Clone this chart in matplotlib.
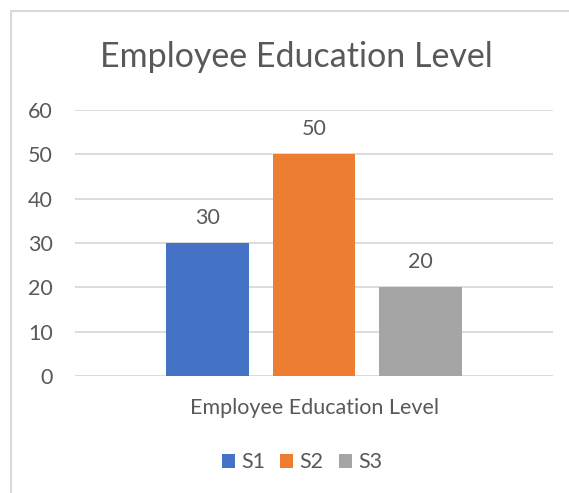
import matplotlib
matplotlib.use('Agg')
import matplotlib.pyplot as plt
from matplotlib.patches import Rectangle

# chart data
series = ['S1', 'S2', 'S3']
values = [30, 50, 20]
colors = ['#4472C4', '#ED7D31', '#A5A5A5']
category = 'Employee Education Level'
yticks = [0, 10, 20, 30, 40, 50, 60]

plt.rcParams['font.family'] = ['Lato', 'DejaVu Sans']
text_col = '#595959'

fig = plt.figure(figsize=(5.69, 4.93), dpi=100)
fig.patch.set_facecolor('white')

# outer chart frame (only left and top visible in the crop)
fig.add_artist(Rectangle((11 / 569, -0.1), 1.2, 1 - 11 / 493 + 0.1,
                         transform=fig.transFigure, fill=False,
                         edgecolor='#d9d9d9', linewidth=1.5))

ax = fig.add_axes([75 / 569, 1 - 376 / 493, (553 - 75) / 569, (376 - 110) / 493])

pos = [-1, 0, 1]
for i in range(len(series)):
    ax.bar(pos[i], values[i], width=0.78, color=colors[i], label=series[i], zorder=3)
    ax.annotate(str(values[i]), (pos[i], values[i]), xytext=(0, 11),
                textcoords='offset points', ha='center', va='bottom',
                fontsize=15.5, color=text_col)

ax.set_xlim(-2.25, 2.25)
ax.set_ylim(0, 60)
ax.set_yticks(yticks)
ax.set_xticks([])
ax.yaxis.grid(True, color='#d9d9d9', linewidth=1.3, zorder=0)
for s in ax.spines.values():
    s.set_visible(False)
ax.tick_params(axis='y', length=0, pad=16, labelsize=15.5, labelcolor=text_col)
ax.set_axisbelow(True)

fig.text(296 / 569, 1 - 57 / 493, 'Employee Education Level', ha='center', va='center',
         fontsize=24.5, color=text_col)
ax.text(0, -0.12, category, transform=ax.get_xaxis_transform(), ha='center',
        va='center', fontsize=15.5, color=text_col)

leg = ax.legend(loc='center', bbox_to_anchor=(0.475, -0.325), ncol=3, frameon=False,
                fontsize=15.5, handlelength=0.6, handleheight=0.6, handletextpad=0.3,
                columnspacing=0.7)
for t in leg.get_texts():
    t.set_color(text_col)

fig.savefig('out.png', dpi=100)
